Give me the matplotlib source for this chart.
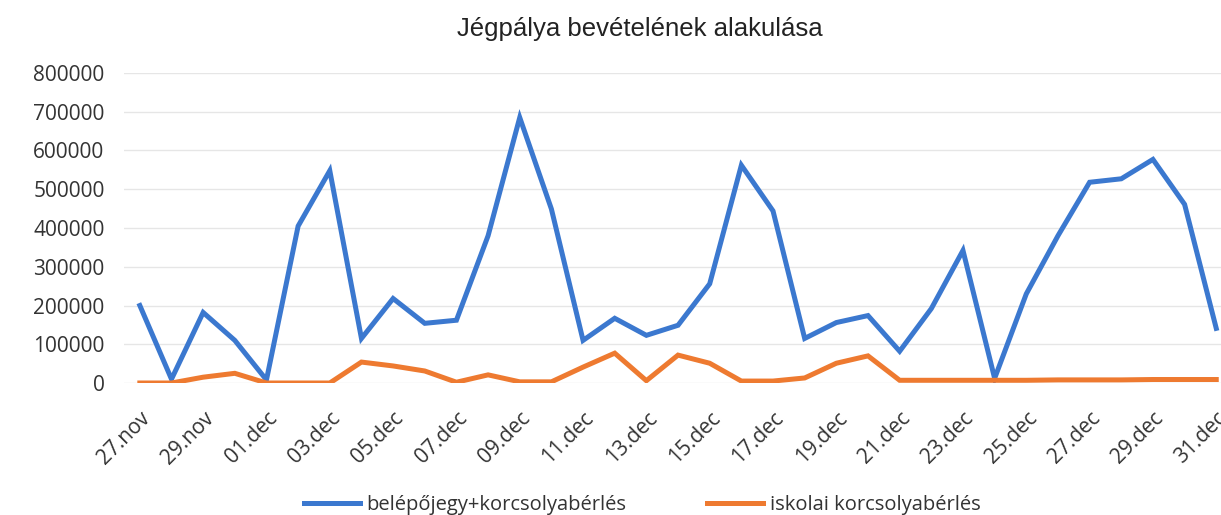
import matplotlib.pyplot as plt
import numpy as np

plt.rcParams['font.family'] = ['Open Sans', 'DejaVu Sans']

days = ["27.nov", "28.nov", "29.nov", "30.nov", "01.dec", "02.dec", "03.dec",
        "04.dec", "05.dec", "06.dec", "07.dec", "08.dec", "09.dec", "10.dec",
        "11.dec", "12.dec", "13.dec", "14.dec", "15.dec", "16.dec", "17.dec",
        "18.dec", "19.dec", "20.dec", "21.dec", "22.dec", "23.dec", "24.dec",
        "25.dec", "26.dec", "27.dec", "28.dec", "29.dec", "30.dec", "31.dec"]

belepo = [200000, 10000, 182000, 110000, 8000, 405000, 548000, 115000, 218000,
          154000, 162000, 380000, 685000, 449000, 110000, 167000, 123000, 149000,
          256000, 562000, 444000, 115000, 156000, 174000, 82000, 192000, 342000,
          12000, 230000, 380000, 518000, 527000, 577000, 461000, 141000]

iskolai = [0, 0, 15000, 25000, 0, 0, 0, 54000, 44000, 31000, 2000, 21000, 3000,
           3000, 41000, 77000, 6000, 72000, 51000, 5000, 5000, 13000, 51000,
           70000, 7000, 7000, 7000, 7000, 7000, 8000, 8000, 8000, 9000, 9000, 9000]

labels = ["belépőjegy+korcsolyabérlés", "iskolai korcsolyabérlés"]
colors = ["#3b78cf", "#ee7a30"]

fig = plt.figure(figsize=(12.21, 5.15), dpi=100)
ax = fig.add_axes([124 / 1221, 132 / 515, (1221 - 124) / 1221, 310 / 515])

x = np.arange(len(days))
ax.plot(x, belepo, color=colors[0], lw=3.6, label=labels[0], solid_joinstyle='miter')
ax.plot(x, iskolai, color=colors[1], lw=3.6, label=labels[1], solid_joinstyle='miter')

ax.set_xlim(-0.5, 34.15)
ax.set_ylim(0, 800000)
ax.set_yticks(np.arange(0, 800001, 100000))
ax.set_yticklabels([str(v) for v in range(0, 800001, 100000)], fontsize=15, color="#333333")
ax.set_xticks(x[::2])
ax.set_xticklabels(days[::2], rotation=45, ha='right', rotation_mode='anchor',
                   fontsize=15, color="#333333")
ax.tick_params(axis='y', length=0, pad=14)
ax.tick_params(axis='x', length=0, pad=18)
ax.grid(axis='y', color="#e6e6e6", lw=1)
ax.set_axisbelow(True)
for s in ax.spines.values():
    s.set_visible(False)

fig.suptitle("Jégpálya bevételének alakulása", x=0.524, y=0.967, fontsize=18.5,
             color="#222222", family='Liberation Sans')
fig.legend(loc='center', bbox_to_anchor=(0.526, 0.02), ncol=2, frameon=False,
           fontsize=14.5, handlelength=2.75, columnspacing=4.0, handletextpad=0.35,
           labelcolor="#333333")

fig.savefig("out.png", dpi=100)
